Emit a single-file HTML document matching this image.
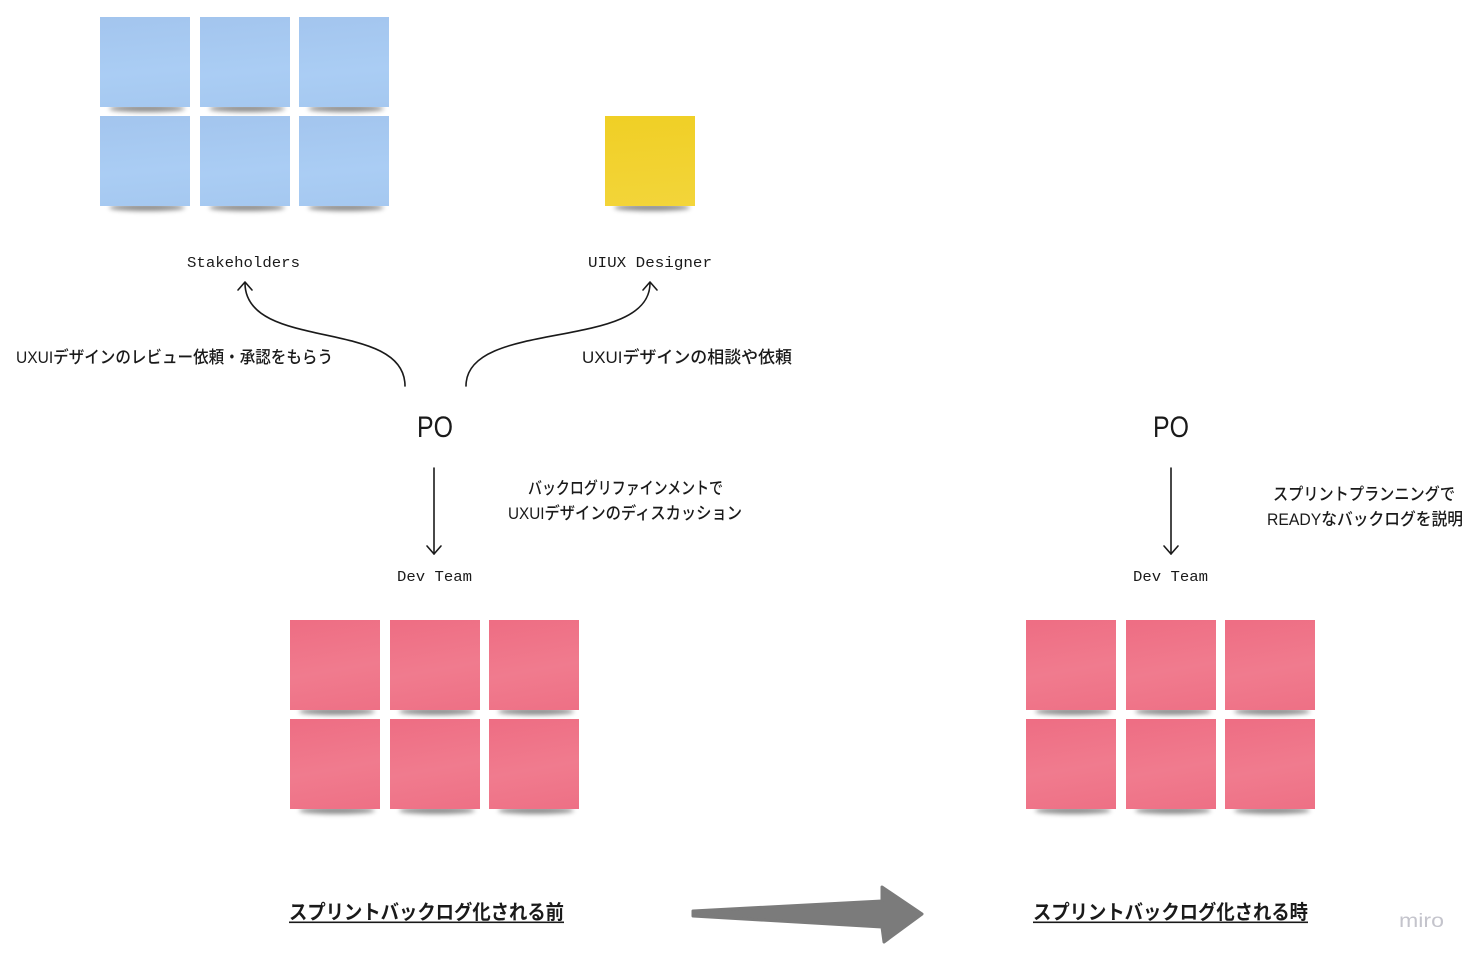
<!DOCTYPE html>
<html>
<head>
<meta charset="utf-8">
<style>
  html,body{margin:0;padding:0;background:#fff;}
  body{width:1480px;height:962px;position:relative;overflow:hidden;}
  .s{position:absolute;width:90px;height:90px;}
  .s::after{content:"";position:absolute;left:9px;right:5px;bottom:-5px;height:7px;background:rgba(0,0,0,0.45);filter:blur(2.5px);z-index:-1;border-radius:50%;}
  .b{background:linear-gradient(175deg,#a3c5ee 0%,#aacdf4 60%,#a5c8f0 100%);}
  .p{background:linear-gradient(170deg,#ee6d83 0%,#f07b8e 55%,#ee7085 100%);}
  .y{background:linear-gradient(175deg,#f0cf25 0%,#f3d53a 100%);}
  .wrap{position:absolute;left:0;top:0;width:1480px;height:962px;z-index:1;}
  svg{position:absolute;left:0;top:0;z-index:2;}
  .mono{font-family:"Liberation Mono","DejaVu Sans Mono",monospace;}
  .jp{font-family:"Liberation Sans","Noto Sans CJK JP",sans-serif;}
  .jm{font-family:"Liberation Sans","Noto Sans CJK JP",sans-serif;font-weight:500;}
</style>
</head>
<body>
<div class="wrap">
  <!-- blue -->
  <div class="s b" style="left:100px;top:17px"></div>
  <div class="s b" style="left:200px;top:17px"></div>
  <div class="s b" style="left:299px;top:17px"></div>
  <div class="s b" style="left:100px;top:116px"></div>
  <div class="s b" style="left:200px;top:116px"></div>
  <div class="s b" style="left:299px;top:116px"></div>
  <!-- yellow -->
  <div class="s y" style="left:605px;top:116px"></div>
  <!-- pink left -->
  <div class="s p" style="left:290px;top:620px"></div>
  <div class="s p" style="left:390px;top:620px"></div>
  <div class="s p" style="left:489px;top:620px"></div>
  <div class="s p" style="left:290px;top:719px"></div>
  <div class="s p" style="left:390px;top:719px"></div>
  <div class="s p" style="left:489px;top:719px"></div>
  <!-- pink right -->
  <div class="s p" style="left:1026px;top:620px"></div>
  <div class="s p" style="left:1126px;top:620px"></div>
  <div class="s p" style="left:1225px;top:620px"></div>
  <div class="s p" style="left:1026px;top:719px"></div>
  <div class="s p" style="left:1126px;top:719px"></div>
  <div class="s p" style="left:1225px;top:719px"></div>
</div>

<svg width="1480" height="962" viewBox="0 0 1480 962" xmlns="http://www.w3.org/2000/svg">
  <g fill="none" stroke="#1a1a1a" stroke-width="1.6" stroke-linecap="round" stroke-linejoin="round">
    <path d="M405,386 C405,318 245,352 245,283"/>
    <path d="M238,290 L245,282 L252,290"/>
    <path d="M466,386 C466,318 650,352 650,283"/>
    <path d="M643,290 L650,282 L657,290"/>
    <path d="M434,468 L434,554"/>
    <path d="M427,546 L434,554 L441,546"/>
    <path d="M1171,468 L1171,554"/>
    <path d="M1164,546 L1171,554 L1178,546"/>
  </g>

  <polygon points="693,911 882,901 882,887 922,914 884,942 882,927 693,916"
           fill="#7b7b7b" stroke="#7b7b7b" stroke-width="3" stroke-linejoin="round"/>

  <g fill="#1a1a1a">
    <text class="mono" x="187" y="267" font-size="15" textLength="113" lengthAdjust="spacingAndGlyphs">Stakeholders</text>
    <text class="mono" x="588" y="267" font-size="15" textLength="124" lengthAdjust="spacingAndGlyphs">UIUX Designer</text>

    <text class="jm" x="16" y="363" font-size="17" textLength="317" lengthAdjust="spacingAndGlyphs">UXUIデザインのレビュー依頼・承認をもらう</text>
    <text class="jm" x="582" y="363" font-size="17" textLength="210" lengthAdjust="spacingAndGlyphs">UXUIデザインの相談や依頼</text>

    <text class="jp" x="417" y="437" font-size="30" textLength="36" lengthAdjust="spacingAndGlyphs">PO</text>
    <text class="jp" x="1153" y="437" font-size="30" textLength="36" lengthAdjust="spacingAndGlyphs">PO</text>

    <text class="jm" x="528" y="494" font-size="17" textLength="195" lengthAdjust="spacingAndGlyphs">バックログリファインメントで</text>
    <text class="jm" x="508" y="519" font-size="17" textLength="234" lengthAdjust="spacingAndGlyphs">UXUIデザインのディスカッション</text>

    <text class="jm" x="1273" y="500" font-size="17" textLength="182" lengthAdjust="spacingAndGlyphs">スプリントプランニングで</text>
    <text class="jm" x="1267" y="525" font-size="17" textLength="196" lengthAdjust="spacingAndGlyphs">READYなバックログを説明</text>

    <text class="mono" x="397" y="581" font-size="15" textLength="75" lengthAdjust="spacingAndGlyphs">Dev Team</text>
    <text class="mono" x="1133" y="581" font-size="15" textLength="75" lengthAdjust="spacingAndGlyphs">Dev Team</text>

    <text class="jp" x="289" y="919" font-size="20" font-weight="bold" textLength="275" lengthAdjust="spacingAndGlyphs">スプリントバックログ化される前</text>
    <text class="jp" x="1033" y="919" font-size="20" font-weight="bold" textLength="275" lengthAdjust="spacingAndGlyphs">スプリントバックログ化される時</text>
  </g>
  <rect x="289" y="921.5" width="275" height="1.6" fill="#1a1a1a"/>
  <rect x="1033" y="921.5" width="275" height="1.6" fill="#1a1a1a"/>

  <text x="1399" y="927" font-family="Liberation Sans, sans-serif" font-size="19" fill="#c4c4cc" textLength="45" lengthAdjust="spacingAndGlyphs">miro</text>
</svg>
</body>
</html>
